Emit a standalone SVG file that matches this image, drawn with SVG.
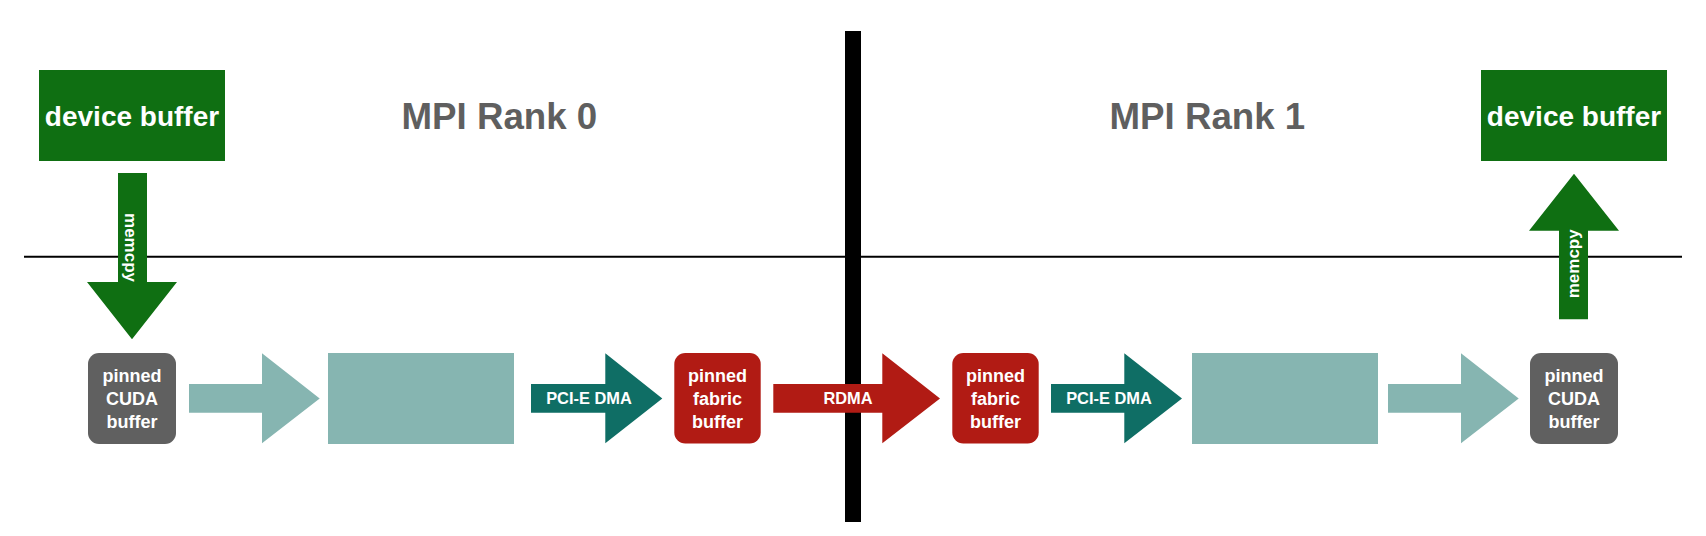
<svg xmlns="http://www.w3.org/2000/svg" width="1706" height="536" viewBox="0 0 1706 536">
  <style>
    text { font-family: "Liberation Sans", Arial, Helvetica, sans-serif; font-weight: bold; }
    .title { font-size: 36.7px; fill: #5F5F5F; }
    .dev { fill: #0F6F12; }
    .devtxt { font-size: 28px; fill: #ffffff; text-anchor: middle; }
    .cuda { fill: #606060; }
    .fabric { fill: #B11B14; }
    .stage { fill: #86B5B1; }
    .boxtxt { font-size: 18px; fill: #ffffff; text-anchor: middle; }
    .arrtxt { font-size: 16.4px; fill: #ffffff; text-anchor: middle; }
    .memtxt { font-size: 17px; fill: #ffffff; text-anchor: middle; }
    .a-green { fill: #0F6F12; }
    .a-light { fill: #86B5B1; }
    .a-dark { fill: #0F6E65; }
    .a-red { fill: #B11B14; }
  </style>

  <g id="background">
    <line x1="24" y1="256.7" x2="1682" y2="256.7" stroke="#000000" stroke-width="2"/>
    <rect x="845" y="31" width="16" height="491" fill="#000000"/>
    <text class="title" x="401.5" y="129.3">MPI Rank 0</text>
    <text class="title" x="1109.5" y="129.3">MPI Rank 1</text>
  </g>

  <g id="device-buffer-0">
    <rect class="dev" x="39" y="70" width="186" height="91"/>
    <text class="devtxt" x="132" y="126">device buffer</text>
  </g>

  <g id="device-buffer-1">
    <rect class="dev" x="1481" y="70" width="186" height="91"/>
    <text class="devtxt" x="1574" y="126">device buffer</text>
  </g>

  <g id="pinned-cuda-0">
    <rect class="cuda" x="88" y="353" width="88" height="91" rx="11" ry="11"/>
    <text class="boxtxt" x="132" y="381.7">pinned</text>
    <text class="boxtxt" x="132" y="405">CUDA</text>
    <text class="boxtxt" x="132" y="428.3">buffer</text>
  </g>

  <g id="stage-0">
    <rect class="stage" x="328" y="353" width="186" height="91"/>
  </g>

  <g id="pinned-fabric-0">
    <rect class="fabric" x="674.3" y="353" width="86.4" height="90.5" rx="11" ry="11"/>
    <text class="boxtxt" x="717.5" y="381.7">pinned</text>
    <text class="boxtxt" x="717.5" y="405">fabric</text>
    <text class="boxtxt" x="717.5" y="428.3">buffer</text>
  </g>

  <g id="pinned-fabric-1">
    <rect class="fabric" x="952.3" y="353" width="86.4" height="90.5" rx="11" ry="11"/>
    <text class="boxtxt" x="995.5" y="381.7">pinned</text>
    <text class="boxtxt" x="995.5" y="405">fabric</text>
    <text class="boxtxt" x="995.5" y="428.3">buffer</text>
  </g>

  <g id="stage-1">
    <rect class="stage" x="1192" y="353" width="186" height="91"/>
  </g>

  <g id="pinned-cuda-1">
    <rect class="cuda" x="1530" y="353" width="88" height="91" rx="11" ry="11"/>
    <text class="boxtxt" x="1574" y="381.7">pinned</text>
    <text class="boxtxt" x="1574" y="405">CUDA</text>
    <text class="boxtxt" x="1574" y="428.3">buffer</text>
  </g>

  <g id="connectors">
    <!-- memcpy down (rank 0) -->
    <polygon class="a-green" points="118,173 147,173 147,282 177,282 132,339.3 87,282 118,282"/>
    <text class="memtxt" transform="translate(125,247.5) rotate(90)" x="0" y="0">memcpy</text>

    <!-- light arrow rank 0 -->
    <polygon class="a-light" points="189,384 262,384 262,353.3 319.7,398.5 262,443.3 262,412.7 189,412.7"/>

    <!-- PCI-E DMA rank 0 -->
    <polygon class="a-dark" points="531,384 605.3,384 605.3,353.3 662.3,398.5 605.3,443.3 605.3,412.7 531,412.7"/>
    <text class="arrtxt" x="589" y="404">PCI-E DMA</text>

    <!-- RDMA -->
    <polygon class="a-red" points="773.3,384 882.3,384 882.3,353.3 940,398.5 882.3,443.3 882.3,412.7 773.3,412.7"/>
    <text class="arrtxt" x="848" y="404">RDMA</text>

    <!-- PCI-E DMA rank 1 -->
    <polygon class="a-dark" points="1051,384 1124.3,384 1124.3,353.3 1182,398.5 1124.3,443.3 1124.3,412.7 1051,412.7"/>
    <text class="arrtxt" x="1109" y="404">PCI-E DMA</text>

    <!-- light arrow rank 1 -->
    <polygon class="a-light" points="1388,384 1461,384 1461,353.3 1518.7,398.5 1461,443.3 1461,412.7 1388,412.7"/>

    <!-- memcpy up (rank 1) -->
    <polygon class="a-green" points="1559,319.3 1588,319.3 1588,230.7 1619,230.7 1574,173.7 1529,230.7 1559,230.7"/>
    <text class="memtxt" transform="translate(1579.3,263.8) rotate(-90)" x="0" y="0">memcpy</text>
  </g>
</svg>
